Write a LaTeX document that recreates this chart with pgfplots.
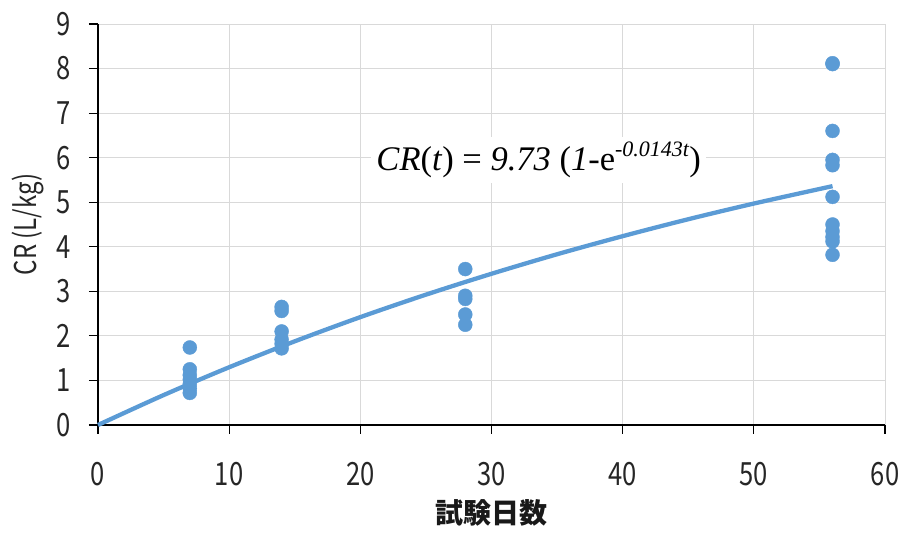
\documentclass[border=0pt]{standalone}
\usepackage{pgfplots}
\pgfplotsset{compat=1.18}
\usepackage{fontspec}
\setmainfont{Noto Sans CJK JP}
\newfontfamily\tickfont[FakeStretch=0.8]{Noto Sans CJK JP}
\newfontfamily\eqfont{Liberation Serif}
\definecolor{ser}{RGB}{91,155,213}
\begin{document}
\begin{tikzpicture}
\begin{axis}[
  scale only axis, width=787pt, height=401pt,
  xmin=0, xmax=60, ymin=0, ymax=9,
  xtick={0,10,...,60}, ytick={0,1,...,9},
  axis lines=left, axis line style={-, black, line width=1.2pt},
  grid=major, grid style={gray!30, line width=1pt},
  tick style={black, line width=1.2pt}, tick align=outside, major tick length=9pt,
  /pgf/number format/assume math mode=true,
  ticklabel style={font=\tickfont\fontsize{32}{32}\selectfont, text=black!85},
  yticklabel style={anchor=east, inner sep=0pt, xshift=-18pt},
  xticklabel style={anchor=north, inner sep=0pt, yshift=-28pt},
  xlabel={\bfseries 試験日数}, xlabel style={font=\fontsize{28}{28}\selectfont, at={([yshift=-88pt]rel axis cs:0.5,0)}, anchor=center, text=black!90},
  ylabel={CR (L/kg)}, ylabel style={font=\tickfont\fontsize{30}{30}\selectfont, at={([xshift=-70pt]rel axis cs:0,0.5)}, anchor=center, text=black!85},
  clip=false,
]
\addplot[ser, line width=4.3pt, smooth] coordinates {
 (0,0) (5,0.671) (10,1.296) (15,1.878) (20,2.421) (25,2.925) (30,3.394)
 (35,3.832) (40,4.238) (45,4.618) (50,4.970) (56,5.361)};
\addplot[only marks, mark=*, mark size=7pt, ser, mark options={draw=ser, fill=ser}] coordinates {
 (7,1.74) (7,1.25) (7,1.12) (7,1.02) (7,0.92) (7,0.82) (7,0.72)
 (14,2.65) (14,2.56) (14,2.1) (14,1.92) (14,1.82) (14,1.72)
 (28,3.5) (28,2.9) (28,2.83) (28,2.48) (28,2.25)
 (56,8.12) (56,8.1) (56,6.6) (56,5.95) (56,5.83) (56,5.12) (56,4.5) (56,4.35) (56,4.22) (56,4.12) (56,3.82)};
\node[fill=white, inner sep=5pt, font=\eqfont\fontsize{34.5}{34.5}\selectfont] at (axis cs:33.6,5.95)
 {\textit{CR}(\textit{t}) = \textit{9.73} (\textit{1}-e\raisebox{0.42em}{\fontsize{22}{22}\selectfont\textit{-0.0143t}})};
\coordinate (bl) at (rel axis cs:0,0);
\coordinate (tr) at (rel axis cs:1,1);
\end{axis}
\pgfresetboundingbox
\path ([xshift=-98pt,yshift=-108pt]bl) rectangle ([xshift=19pt,yshift=24pt]tr);
\end{tikzpicture}
\end{document}
